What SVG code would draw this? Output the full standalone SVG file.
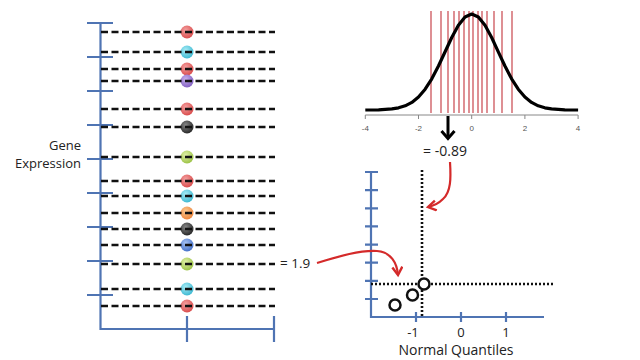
<svg xmlns="http://www.w3.org/2000/svg" width="640" height="360" viewBox="0 0 640 360">
<defs>
<style>
.ax{stroke:#4f74b3;stroke-width:2.2;fill:none}
.dash{stroke:#111;stroke-width:2.6;stroke-dasharray:7 3.5;fill:none}
.dot{stroke:#111;stroke-width:2.6;stroke-dasharray:2 2;fill:none}
.rl{stroke:#c8464e;stroke-width:1.2}
.red{stroke:#d42a2a;stroke-width:2.2;fill:none}
.lbl{font-family:"Open Sans","Liberation Sans",sans-serif;fill:#222}
.tk{font-family:"Liberation Sans",sans-serif;font-size:8px;fill:#555;text-anchor:middle}
.pt{fill:#fff;stroke:#111;stroke-width:2.5}
</style>
<marker id="rh" markerUnits="userSpaceOnUse" markerWidth="14" markerHeight="14" refX="9" refY="6" orient="auto">
<path d="M1,1 L9,6 L1,11" fill="none" stroke="#d42a2a" stroke-width="2.4"/>
</marker>
<radialGradient id="gr" cx="0.4" cy="0.35" r="0.7"><stop offset="0" stop-color="#f4a0a0"/><stop offset="1" stop-color="#d84848"/></radialGradient>
<radialGradient id="gc" cx="0.4" cy="0.35" r="0.7"><stop offset="0" stop-color="#a8ecf6"/><stop offset="1" stop-color="#38b6d0"/></radialGradient>
<radialGradient id="gp" cx="0.4" cy="0.35" r="0.7"><stop offset="0" stop-color="#c8b0ec"/><stop offset="1" stop-color="#7e5cc0"/></radialGradient>
<radialGradient id="gk" cx="0.4" cy="0.35" r="0.7"><stop offset="0" stop-color="#888"/><stop offset="1" stop-color="#222"/></radialGradient>
<radialGradient id="gg" cx="0.4" cy="0.35" r="0.7"><stop offset="0" stop-color="#e0f0a8"/><stop offset="1" stop-color="#98c040"/></radialGradient>
<radialGradient id="go" cx="0.4" cy="0.35" r="0.7"><stop offset="0" stop-color="#fcc890"/><stop offset="1" stop-color="#ec8238"/></radialGradient>
<radialGradient id="gb" cx="0.4" cy="0.35" r="0.7"><stop offset="0" stop-color="#a8c4f4"/><stop offset="1" stop-color="#3e6cc8"/></radialGradient>
</defs>
<rect width="640" height="360" fill="#fff"/>

<g id="gene-axis">
<path class="ax" d="M100.5,23 V329 H274 M87,23 H113 M87,57 H113 M87,91 H113 M87,125 H113 M87,159 H113 M87,193 H113 M87,227 H113 M87,261 H113 M87,295 H113 M187,316 V342 M274,316 V342"/>
</g>
<g id="gene-label" class="lbl" font-size="13" text-anchor="end">
<text x="81" y="150">Gene</text>
<text x="81" y="168">Expression</text>
</g>

<g id="samples">
<circle cx="187" cy="32" r="6.5" fill="url(#gr)"/>
<circle cx="187" cy="52" r="6.5" fill="url(#gc)"/>
<circle cx="187" cy="69" r="6.5" fill="url(#gr)"/>
<circle cx="187" cy="81" r="6.5" fill="url(#gp)"/>
<circle cx="187" cy="109" r="6.5" fill="url(#gr)"/>
<circle cx="187" cy="127" r="6.5" fill="url(#gk)"/>
<circle cx="187" cy="157" r="6.5" fill="url(#gg)"/>
<circle cx="187" cy="181" r="6.5" fill="url(#gr)"/>
<circle cx="187" cy="196" r="6.5" fill="url(#gc)"/>
<circle cx="187" cy="213" r="6.5" fill="url(#go)"/>
<circle cx="187" cy="229" r="6.5" fill="url(#gk)"/>
<circle cx="187" cy="245" r="6.5" fill="url(#gb)"/>
<circle cx="187" cy="264" r="6.5" fill="url(#gg)"/>
<circle cx="187" cy="289" r="6.5" fill="url(#gc)"/>
<circle cx="187" cy="306" r="6.5" fill="url(#gr)"/>
<path class="dash" d="M101,32 H275 M101,52 H275 M101,69 H275 M101,81 H275 M101,109 H275 M101,127 H275 M101,157 H275 M101,181 H275 M101,196 H275 M101,213 H275 M101,229 H275 M101,245 H275 M101,264 H275 M101,289 H275 M101,306 H275"/>
</g>

<g id="normal-curve">
<path class="rl" d="M431,11 V113 M441,11 V113 M448,11 V113 M454,11 V113 M459,11 V113 M464,11 V113 M469,11 V113 M473,11 V113 M478,11 V113 M482,11 V113 M487,11 V113 M494,11 V113 M502,11 V113 M512,11 V113"/>
<polyline fill="none" stroke="#000" stroke-width="3.2" stroke-linejoin="round" points="365.3,110 378.6,109.8 391.9,108.9 398.55,107.8 405.2,105.8 411.85,102.4 418.5,97 425.15,89.2 431.8,78.8 438.45,66 445.1,51.8 451.75,37.5 458.4,25.3 465.05,17 471.7,14 478.35,17 485,25.3 491.65,37.5 498.3,51.8 504.95,66 511.6,78.8 518.25,89.2 524.9,97 531.55,102.4 538.2,105.8 544.85,107.8 551.5,108.9 564.8,109.8 578.1,110"/>
<path d="M365.3,115 H578.1 M365.3,115 V119 M418.5,115 V119 M471.7,115 V119 M524.9,115 V119 M578.1,115 V119" stroke="#888" stroke-width="1" fill="none"/>
<text class="tk" x="365.3" y="131">-4</text>
<text class="tk" x="418.5" y="131">-2</text>
<text class="tk" x="471.7" y="131">0</text>
<text class="tk" x="524.9" y="131">2</text>
<text class="tk" x="578.1" y="131">4</text>
</g>

<g id="quantile-value">
<text class="lbl" x="445" y="156" font-size="14" text-anchor="middle">= -0.89</text>
</g>
<g id="gene-value">
<text class="lbl" x="280" y="268" font-size="13.5">= 1.9</text>
</g>

<g id="qq-plot">
<path class="ax" d="M371,172 V317 H544 M365,172 H378 M365,190.1 H378 M365,208.3 H378 M365,226.4 H378 M365,244.6 H378 M365,262.7 H378 M365,280.8 H378 M365,299 H378 M416,312 V322 M461,312 V322 M506,312 V322"/>
<path class="dot" d="M422,170 V317 M371,284 H553"/>
<circle class="pt" cx="424" cy="284" r="5.5"/>
<circle class="pt" cx="412.5" cy="295" r="5.5"/>
<circle class="pt" cx="395" cy="305" r="5.5"/>
<g class="lbl" font-size="13" text-anchor="middle">
<text x="413" y="337">-1</text>
<text x="461" y="337">0</text>
<text x="506" y="337">1</text>
<text x="456" y="355" font-size="14">Normal Quantiles</text>
</g>
</g>

<g id="connectors">
<path d="M448,116 V136" stroke="#000" stroke-width="3"/>
<polyline points="441.5,131 448,138.5 454.5,131" fill="none" stroke="#000" stroke-width="3"/>
<path class="red" marker-end="url(#rh)" d="M450,162 C451,178 451,192 443,199 C438,204 433,206 428,207"/>
<path class="red" marker-end="url(#rh)" d="M317,263 C340,256 360,250 377,251 C391,252 397,263 398,275"/>
</g>
</svg>
